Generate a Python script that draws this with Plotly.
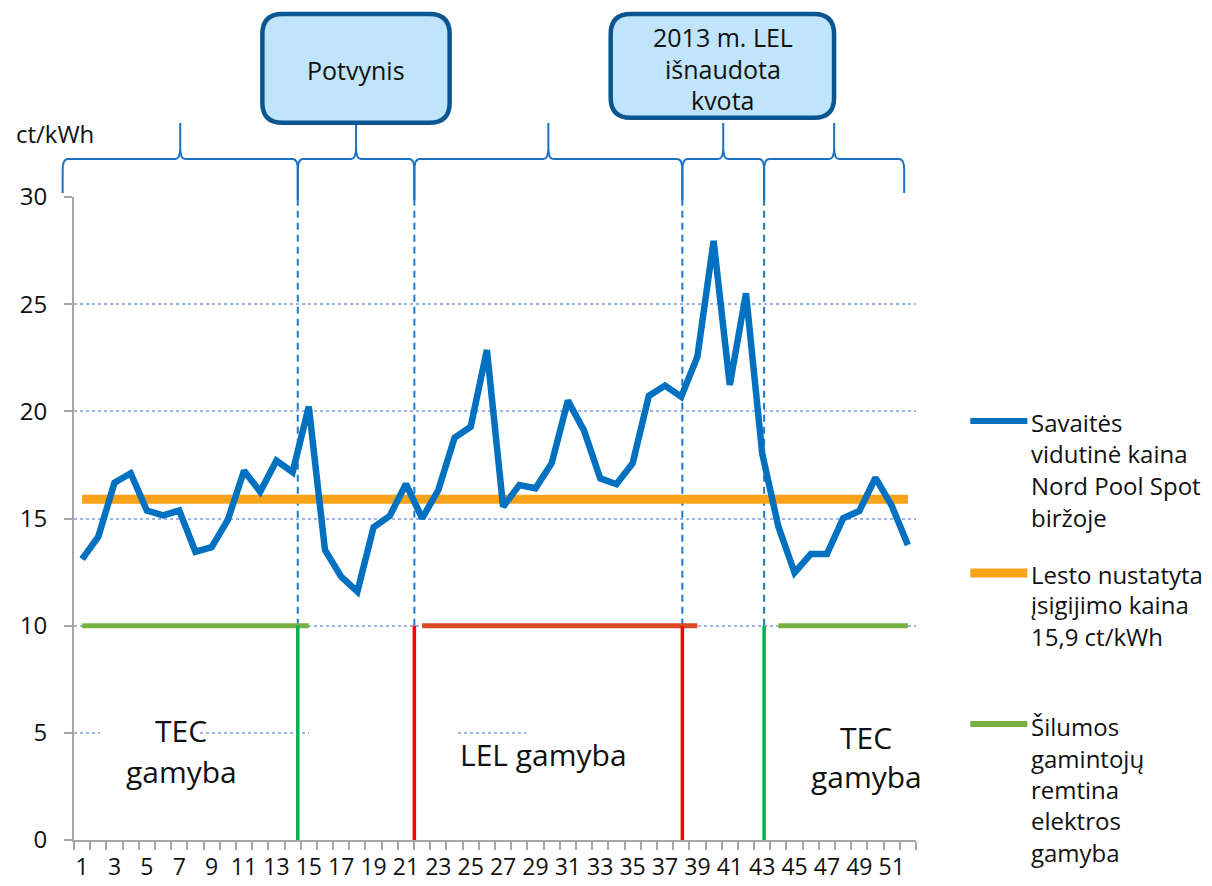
import plotly.graph_objects as go

# ---------------- data ----------------
weeks = list(range(1, 53))
spot_price = [13.10, 14.15, 16.67, 17.11, 15.37, 15.15, 15.37, 13.45, 13.66, 14.93,
              17.23, 16.25, 17.70, 17.16, 20.22, 13.53, 12.29, 11.59, 14.59, 15.12,
              16.61, 15.01, 16.33, 18.77, 19.28, 22.86, 15.55, 16.56, 16.41, 17.58,
              20.50, 19.10, 16.87, 16.60, 17.58, 20.72, 21.20, 20.68, 22.55, 27.95,
              21.23, 25.51, 18.04, 14.62, 12.47, 13.34, 13.34, 15.01, 15.35, 16.90,
              15.60, 13.76]
lesto_price = 15.9
tec_weeks_1 = list(range(1, 16))
tec_weeks_2 = list(range(44, 53))
lel_weeks = list(range(22, 40))
support_level = 10
x_tick_labels = [str(w) for w in range(1, 52, 2)]
y_ticks = [0, 5, 10, 15, 20, 25, 30]
# period boundaries (week positions)
dividers = [14.32, 21.52, 38.07, 43.12]
divider_colors = ["#00B050", "#FF0000", "#FF0000", "#00B050"]
brace_ends = [-0.2, 51.77]

legend_entries = [
    ("#0070C0", 6, ["Savaitės", "vidutinė kaina", "Nord Pool Spot", "biržoje"]),
    ("#F9A31A", 9, ["Lesto nustatyta", "įsigijimo kaina", "15,9 ct/kWh"]),
    ("#77B041", 6, ["Šilumos", "gamintojų", "remtina", "elektros", "gamyba"]),
]

# ---------------- geometry helpers ----------------
W, H = 1212, 886
PL, PR, PT, PB = 74, 915.7, 197, 840
XMIN, XMAX = 0.5, 52.5
YMIN, YMAX = 0, 30


def xp(px):
    return (px - PL) / (PR - PL)


def yp(py):
    return (PB - py) / (PB - PT)


def w2px(w):
    return PL + (w - XMIN) / (XMAX - XMIN) * (PR - PL)


def px2w(px):
    return XMIN + (px - PL) / (PR - PL) * (XMAX - XMIN)


def path_px(cmds):
    out = []
    for c, pts in cmds:
        out.append(c + " ".join(f"{xp(x):.5f},{yp(y):.5f}" for x, y in pts))
    return " ".join(out)


def brace(xa, xb, ya_end, yb_end, yh=159, yt=123, r=5, k=11):
    xm = (xa + xb) / 2
    return path_px([
        ("M", [(xa, ya_end)]), ("L", [(xa, yh + k)]), ("Q", [(xa, yh), (xa + r, yh)]),
        ("L", [(xm - r, yh)]), ("Q", [(xm, yh), (xm, yh - k)]), ("L", [(xm, yt)]),
        ("L", [(xm, yh - k)]), ("Q", [(xm, yh), (xm + r, yh)]),
        ("L", [(xb - r, yh)]), ("Q", [(xb, yh), (xb, yh + k)]), ("L", [(xb, yb_end)]),
    ])


def rrect(x0, y0, x1, y1, r):
    return path_px([
        ("M", [(x0 + r, y0)]), ("L", [(x1 - r, y0)]), ("Q", [(x1, y0), (x1, y0 + r)]),
        ("L", [(x1, y1 - r)]), ("Q", [(x1, y1), (x1 - r, y1)]),
        ("L", [(x0 + r, y1)]), ("Q", [(x0, y1), (x0, y1 - r)]),
        ("L", [(x0, y0 + r)]), ("Q", [(x0, y0), (x0 + r, y0)]), ("Z", []),
    ])


FONT = "Open Sans"
TXT = "#111111"

fig = go.Figure()

# ---------------- traces ----------------
fig.add_trace(go.Scatter(x=weeks, y=[lesto_price] * len(weeks), mode="lines",
                         line=dict(color="#F9A31A", width=9), hoverinfo="skip"))
fig.add_trace(go.Scatter(x=weeks, y=spot_price, mode="lines",
                         line=dict(color="#0070C0", width=6.5)))
fig.add_trace(go.Scatter(x=tec_weeks_1 + [None] + tec_weeks_2,
                         y=[support_level] * len(tec_weeks_1) + [None] + [support_level] * len(tec_weeks_2),
                         mode="lines", line=dict(color="#77B041", width=5), connectgaps=False))
fig.add_trace(go.Scatter(x=lel_weeks, y=[support_level] * len(lel_weeks), mode="lines",
                         line=dict(color="#DD4A26", width=5)))

shapes = []
# white patches that hide parts of the 5 gridline (behind the text labels)
for a, b in [(100, 200), (309, 455), (526, 917)]:
    shapes.append(dict(type="rect", xref="x", yref="y", x0=px2w(a), x1=px2w(b),
                       y0=4.8, y1=5.2, fillcolor="white", line=dict(width=0), layer="between"))
# dashed dividers and solid colored lines
for d, col in zip(dividers, divider_colors):
    shapes.append(dict(type="line", xref="x", yref="paper", x0=d, x1=d,
                       y0=support_level / YMAX, y1=yp(200),
                       line=dict(color="#2178C4", width=2, dash="7px,5px"), layer="between"))
    shapes.append(dict(type="line", xref="x", yref="y", x0=d, x1=d, y0=0, y1=support_level,
                       line=dict(color=col, width=3.5), layer="above"))
# braces
bounds = [brace_ends[0]] + dividers + [brace_ends[1]]
for i in range(len(bounds) - 1):
    xa, xb = w2px(bounds[i]), w2px(bounds[i + 1])
    ya = 193 if i == 0 else 200
    yb = 193 if i == len(bounds) - 2 else 200
    shapes.append(dict(type="path", xref="paper", yref="paper", path=brace(xa, xb, ya, yb),
                       line=dict(color="#1872C0", width=2), fillcolor="rgba(0,0,0,0)"))
# callout boxes
for (x0, y0, x1, y1) in [(262.3, 14, 449.5, 122.7), (610.5, 14, 833.8, 117.8)]:
    shapes.append(dict(type="path", xref="paper", yref="paper", path=rrect(x0, y0, x1, y1, 20),
                       line=dict(color="#0B5590", width=4.5), fillcolor="#BFE4FC"))

annotations = []


def txt(text, x, y, size, xanchor="center"):
    annotations.append(dict(text=text, xref="paper", yref="paper", x=xp(x), y=yp(y),
                            xanchor=xanchor, yanchor="middle", showarrow=False,
                            font=dict(family=FONT, size=size, color=TXT)))


txt("Potvynis", 356, 70, 25)
txt("2013 m. LEL", 722.5, 37, 25)
txt("išnaudota", 722.5, 69, 25)
txt("kvota", 722.5, 100, 25)
txt("ct/kWh", 14, 133, 24, "left")

for text, x, y in [("TEC", 181, 730), ("gamyba", 181, 771), ("LEL gamyba", 543, 754),
                   ("TEC", 866, 737), ("gamyba", 866, 776)]:
    txt(text, x, y, 30)

# legend (manual)
legend_y = [[422, 453.7, 485, 517], [574.7, 604.7, 636], [726, 758, 789.7, 820, 852]]
legend_line_y = [421, 573, 724]
for (col, lw, lines), ys, ly in zip(legend_entries, legend_y, legend_line_y):
    shapes.append(dict(type="line", xref="paper", yref="paper", x0=xp(970), x1=xp(1027),
                       y0=yp(ly), y1=yp(ly), line=dict(color=col, width=lw)))
    for t, y in zip(lines, ys):
        txt(t, 1029, y, 24, "left")

fig.update_layout(
    width=W, height=H, autosize=False,
    margin=dict(l=PL, r=W - PR, t=PT, b=H - PB, pad=0, autoexpand=False),
    paper_bgcolor="white", plot_bgcolor="rgba(0,0,0,0)",
    showlegend=False,
    font=dict(family=FONT, size=24, color=TXT),
    shapes=shapes, annotations=annotations,
    xaxis=dict(range=[XMIN, XMAX], tickmode="array", tickvals=list(range(1, 52, 2)),
               ticktext=x_tick_labels, ticks="", showgrid=False, zeroline=False,
               showline=True, linecolor="#A6A6A6", linewidth=2, automargin=False,
               tickfont=dict(family=FONT, size=23, color=TXT), ticklabelstandoff=5,
               minor=dict(tickmode="array", tickvals=[w + 0.5 for w in range(0, 53)],
                          ticks="outside", ticklen=8, tickwidth=2, tickcolor="#A6A6A6",
                          showgrid=False)),
    yaxis=dict(range=[YMIN, YMAX], tickmode="array", tickvals=y_ticks,
               ticks="outside", ticklen=8, tickwidth=2, tickcolor="#A6A6A6",
               showline=True, linecolor="#A6A6A6", linewidth=2, zeroline=False,
               showgrid=True, gridcolor="#9DB4E6", griddash="dot", gridwidth=1.5,
               automargin=False,
               tickfont=dict(family=FONT, size=24, color=TXT), ticklabelstandoff=12),
)

fig.write_html("out.html", config={"displayModeBar": False},
               post_script="document.body.style.margin='0';document.body.style.overflow='hidden';")
